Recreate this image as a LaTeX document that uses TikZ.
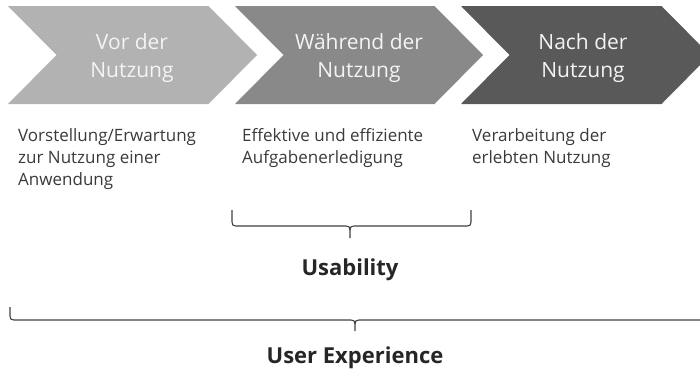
\documentclass[tikz,border=0pt]{standalone}
\usepackage{fontspec}
\setmainfont{Open Sans}
\definecolor{cA}{HTML}{B2B2B2}
\definecolor{cB}{HTML}{898989}
\definecolor{cC}{HTML}{595959}
\definecolor{chevtext}{HTML}{F4F4F4}
\definecolor{bodytext}{HTML}{3A3A3A}
\definecolor{titletext}{HTML}{262626}
\definecolor{bracecol}{HTML}{404040}
\begin{document}
\begin{tikzpicture}[x=1pt,y=-1pt,
  chevlabel/.style={text=chevtext,align=center,inner sep=0pt,font=\fontsize{21}{28}\selectfont},
  bodylabel/.style={text=bodytext,align=left,anchor=north west,inner sep=0pt,font=\fontsize{17}{22}\selectfont},
  titlelabel/.style={text=titletext,inner sep=0pt,font=\fontsize{22}{26}\selectfont\bfseries},
  bracestyle/.style={draw=bracecol,line width=1.1pt,line join=round}]
\useasboundingbox (0,0) rectangle (700,375);
\begin{scope}
\clip (0,0) rectangle (700,375);
\fill[cA] (8,6) -- (208.5,6) -- (257,55) -- (208.5,104) -- (8,104) -- (56.5,55) -- cycle;
\fill[cB] (235,6) -- (434.5,6) -- (483,55) -- (434.5,104) -- (235,104) -- (283.5,55) -- cycle;
\fill[cC] (461,6) -- (661.5,6) -- (710,55) -- (661.5,104) -- (461,104) -- (509.5,55) -- cycle;
\end{scope}
\node[chevlabel] (p1) at (132,58) {Vor der\\Nutzung};
\node[chevlabel] (p2) at (359,58) {Während der\\Nutzung};
\node[chevlabel] (p3) at (583,58) {Nach der\\Nutzung};
\node[bodylabel] (d1) at (18,128.5) {Vorstellung/Erwartung\\zur Nutzung einer\\Anwendung};
\node[bodylabel] (d2) at (242,128.5) {Effektive und effiziente\\Aufgabenerledigung};
\node[bodylabel] (d3) at (472,128.5) {Verarbeitung der\\erlebten Nutzung};
\draw[bracestyle] (232,210) -- (232,222) .. controls (232,225) and (233,226) .. (236,226)
  -- (346,226) .. controls (349,226) and (350,227) .. (350,230) -- (350,238);
\draw[bracestyle] (471,210) -- (471,222) .. controls (471,225) and (470,226) .. (467,226)
  -- (354,226) .. controls (351,226) and (350,227) .. (350,230);
\node[titlelabel] (usab) at (350,270) {Usability};
\draw[bracestyle] (10,307) -- (10,316) .. controls (10,319) and (11,320) .. (14,320)
  -- (351,320) .. controls (354,320) and (355,321) .. (355,324) -- (355,331);
\draw[bracestyle] (700,320) -- (359,320) .. controls (356,320) and (355,321) .. (355,324);
\node[titlelabel] (ux) at (355,357.5) {User Experience};
\end{tikzpicture}
\end{document}
